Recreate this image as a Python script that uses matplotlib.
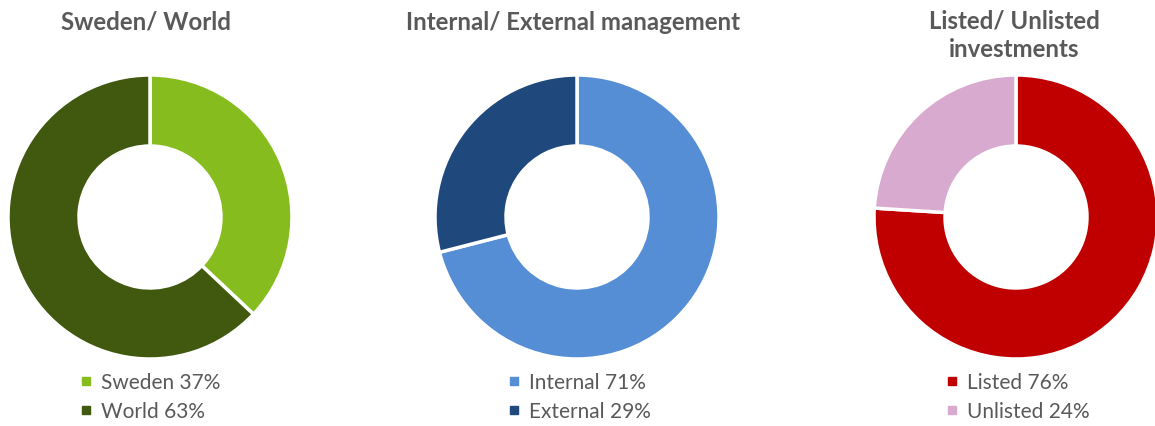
import matplotlib
matplotlib.use("Agg")
import matplotlib.pyplot as plt
from matplotlib.lines import Line2D

titles = ["Sweden/ World", "Internal/ External management", "Listed/ Unlisted\ninvestments"]
labels = [["Sweden", "World"], ["Internal", "External"], ["Listed", "Unlisted"]]
values = [[37, 63], [71, 29], [76, 24]]
colors = [["#86BC1E", "#41580F"], ["#558ED5", "#1F497D"], ["#C00000", "#D9AAD0"]]

W, H = 1155, 427
fig = plt.figure(figsize=(W / 100, H / 100), dpi=100)
plt.rcParams['font.family'] = ['Lato', 'DejaVu Sans']

centers_x = [150, 577, 1016]
cy = 218
R = 142
title_pos = [(146, 22), (573, 22), (1014, 35)]
legend_x = [80, 508, 946]
text_col = "#595959"

for i in range(3):
    ax = fig.add_axes([(centers_x[i] - R) / W, (H - cy - R) / H, 2 * R / W, 2 * R / H])
    ax.pie(values[i], colors=colors[i], startangle=90, counterclock=False,
           radius=1.0, wedgeprops=dict(width=0.5, edgecolor="white", linewidth=2.5))
    ax.set_xlim(-1, 1)
    ax.set_ylim(-1, 1)
    ax.set_aspect("equal")
    ax.axis("off")
    tx, ty = title_pos[i]
    fig.text(tx / W, 1 - ty / H, titles[i], ha="center", va="center",
             fontsize=17.3, fontweight="bold", color=text_col, linespacing=1.3)
    handles = [Line2D([0], [0], marker="s", linestyle="none", markersize=6,
                      markerfacecolor=c, markeredgecolor=c) for c in colors[i]]
    leg_labels = [f"{l} {v}%" for l, v in zip(labels[i], values[i])]
    fig.legend(handles, leg_labels, loc="upper left",
               bbox_to_anchor=(legend_x[i] / W, 1 - 373 / H),
               frameon=False, fontsize=15, labelcolor=text_col,
               handlelength=0.6, handletextpad=0.4, labelspacing=0.45,
               borderpad=0, borderaxespad=0)

fig.savefig("out.png", dpi=100, facecolor="white")
